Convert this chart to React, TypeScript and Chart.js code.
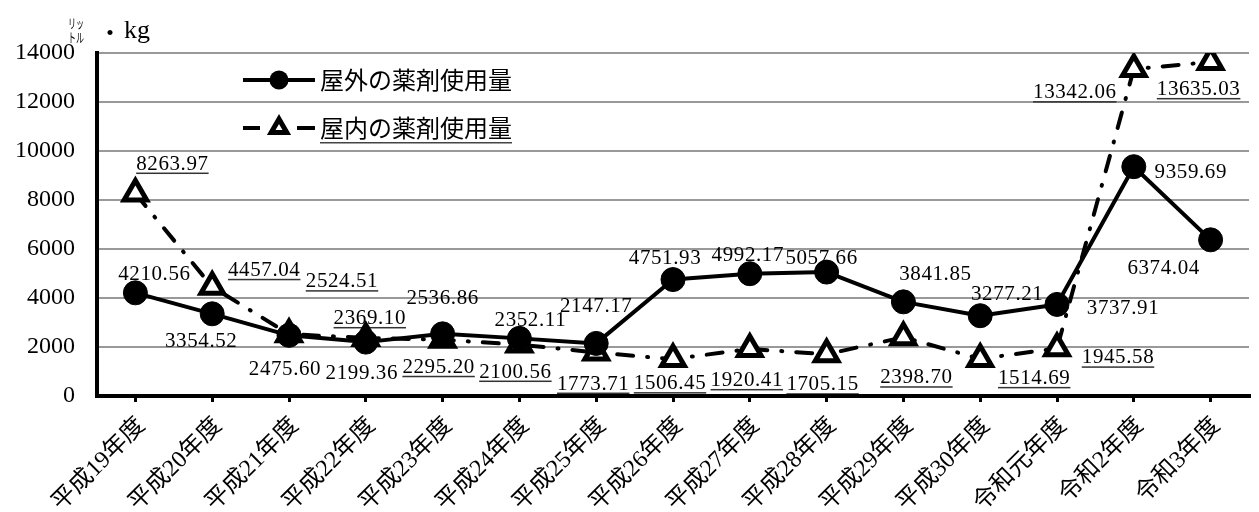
import React, { useEffect, useRef } from 'react';
import { Chart, registerables } from 'chart.js';

Chart.register(...registerables);

// ---- data ----
const categories = [
  '平成19年度', '平成20年度', '平成21年度', '平成22年度', '平成23年度',
  '平成24年度', '平成25年度', '平成26年度', '平成27年度', '平成28年度',
  '平成29年度', '平成30年度', '令和元年度', '令和2年度', '令和3年度',
];
const outdoorValues = [
  4210.56, 3354.52, 2475.6, 2199.36, 2536.86, 2352.11, 2147.17, 4751.93,
  4992.17, 5057.66, 3841.85, 3277.21, 3737.91, 9359.69, 6374.04,
];
const indoorValues = [
  8263.97, 4457.04, 2524.51, 2369.1, 2295.2, 2100.56, 1773.71, 1506.45,
  1920.41, 1705.15, 2398.7, 1514.69, 1945.58, 13342.06, 13635.03,
];
const seriesNames = ['屋外の薬剤使用量', '屋内の薬剤使用量'];
const yMin = 0;
const yMax = 14000;
const yStep = 2000;

// label placement offsets (px, relative to each point) – style only
const outdoorLabelOffsets: [number, number][] = [
  [19, -20], [-11, 26], [-4, 33], [-4, 30], [0, -37], [11, -19], [0, -38],
  [-8, -23], [-2, -20], [-5, -15], [32, -29], [27, -23], [66, 3], [57, 4], [-47, 27],
];
const indoorLabelOffsets: [number, number][] = [
  [37, -31], [52, -18], [53, -54], [4, -21], [-4, 26], [-4, 26], [-3, 30],
  [-3, 23], [-3, 30], [-4, 29], [13, 39], [54, 18], [61, 8], [-59, 22], [-12, 26],
];

const SERIF = '"Liberation Serif", "DejaVu Serif", serif';
const CJK = '"Noto Sans CJK JP", sans-serif';

const dataLabelPlugin = {
  id: 'dataLabelsCustom',
  beforeDatasetsDraw(chart: any) {
    const ctx = chart.ctx as CanvasRenderingContext2D;
    ctx.save();
    ctx.font = `21px ${SERIF}`;
    (ctx as any).letterSpacing = '0.6px';
    ctx.fillStyle = '#000';
    ctx.textAlign = 'center';
    ctx.textBaseline = 'alphabetic';
    const sets = [
      { ds: 0, offs: outdoorLabelOffsets, underline: false },
      { ds: 1, offs: indoorLabelOffsets, underline: true },
    ];
    sets.forEach(({ ds, offs, underline }) => {
      const meta = chart.getDatasetMeta(ds);
      const vals = chart.data.datasets[ds].data as number[];
      meta.data.forEach((pt: any, i: number) => {
        const txt = vals[i].toFixed(2);
        const [dx, dy] = offs[i] || [0, -20];
        const cx = pt.x + dx;
        const base = pt.y + dy + 7;
        ctx.fillText(txt, cx, base);
        if (underline) {
          const w = ctx.measureText(txt).width;
          ctx.fillStyle = '#333';
          ctx.fillRect(cx - w / 2, base + 3, w, 1.5);
          ctx.fillStyle = '#000';
        }
      });
    });
    ctx.restore();
  },
};

const decorPlugin = {
  id: 'decorCustom',
  afterDraw(chart: any) {
    const ctx = chart.ctx as CanvasRenderingContext2D;
    ctx.save();
    // axis unit title
    ctx.fillStyle = '#000';
    ctx.textAlign = 'left';
    ctx.textBaseline = 'middle';
    ctx.font = `13px ${CJK}`;
    ctx.fillText('リッ', 68, 23, 16);
    ctx.fillText('トル', 68, 37, 16);
    ctx.font = `24px ${CJK}`;
    ctx.textAlign = 'center';
    ctx.fillText('・', 110, 32);
    ctx.font = `26px ${SERIF}`;
    ctx.textAlign = 'left';
    ctx.textBaseline = 'alphabetic';
    ctx.fillText('kg', 124, 38);

    // legend
    const lx1 = 243, lx2 = 315, mx = 279;
    const y1 = 80, y2 = 128;
    ctx.strokeStyle = '#000';
    ctx.lineWidth = 4;
    ctx.beginPath();
    ctx.moveTo(lx1, y1);
    ctx.lineTo(lx2, y1);
    ctx.stroke();
    ctx.beginPath();
    ctx.arc(mx, y1, 9.5, 0, Math.PI * 2);
    ctx.fillStyle = '#000';
    ctx.fill();

    ctx.beginPath();
    ctx.moveTo(lx1, y2);
    ctx.lineTo(260, y2);
    ctx.moveTo(297, y2);
    ctx.lineTo(lx2, y2);
    ctx.stroke();
    const r = 9;
    ctx.beginPath();
    ctx.moveTo(mx, y2 - r);
    ctx.lineTo(mx + r * 0.866, y2 + r / 2);
    ctx.lineTo(mx - r * 0.866, y2 + r / 2);
    ctx.closePath();
    ctx.fillStyle = '#fff';
    ctx.fill();
    ctx.lineWidth = 5;
    ctx.lineJoin = 'miter';
    ctx.stroke();

    ctx.fillStyle = '#000';
    ctx.font = `24px ${CJK}`;
    ctx.textAlign = 'left';
    ctx.textBaseline = 'middle';
    ctx.fillText(seriesNames[0], 320, y1);
    ctx.fillText(seriesNames[1], 320, y2);
    const w = ctx.measureText(seriesNames[1]).width;
    ctx.fillStyle = '#444';
    ctx.fillRect(320, y2 + 14, w, 1.5);
    ctx.restore();
  },
};

export default function App() {
  const ref = useRef<HTMLCanvasElement | null>(null);

  useEffect(() => {
    if (!ref.current) return;
    const chart = new Chart(ref.current, {
      type: 'line',
      data: {
        labels: categories,
        datasets: [
          {
            label: seriesNames[0],
            data: outdoorValues,
            borderColor: '#000',
            backgroundColor: '#000',
            borderWidth: 4,
            borderJoinStyle: 'round',
            pointRadius: 12,
            pointBackgroundColor: '#000',
            pointBorderColor: '#000',
            pointBorderWidth: 1,
            tension: 0,
          },
          {
            label: seriesNames[1],
            data: indoorValues,
            borderColor: '#000',
            backgroundColor: '#fff',
            borderWidth: 4,
            borderDash: [16, 14, 1, 14],
            borderCapStyle: 'round',
            pointStyle: 'triangle',
            pointRadius: 13,
            pointBackgroundColor: '#fff',
            pointBorderColor: '#000',
            pointBorderWidth: 5,
            tension: 0,
          },
        ],
      },
      options: {
        responsive: false,
        animation: false,
        events: [],
        layout: { padding: { top: 53, left: 0, right: 0, bottom: 0 } },
        plugins: {
          legend: { display: false },
          tooltip: { enabled: false },
          title: { display: false },
        },
        scales: {
          x: {
            type: 'category',
            offset: true,
            grid: {
              display: true,
              drawOnChartArea: false,
              drawTicks: true,
              tickLength: 6,
              color: '#000',
              lineWidth: 3,
              offset: false,
            },
            border: { display: true, color: '#000', width: 4, z: 1 },
            ticks: {
              autoSkip: false,
              minRotation: 45,
              maxRotation: 45,
              padding: 10,
              labelOffset: 6,
              color: '#000',
              font: { family: `${SERIF.split(',')[0]}, ${CJK}`, size: 24, lineHeight: 1.2 },
            },
            afterFit(scale: any) {
              scale.height = 116;
            },
          },
          y: {
            min: yMin,
            max: yMax,
            grid: {
              color: '#999',
              lineWidth: 2,
              drawTicks: false,
            },
            border: { display: true, color: '#000', width: 4, z: 1 },
            ticks: {
              stepSize: yStep,
              padding: 22,
              color: '#000',
              font: { family: SERIF, size: 24 },
              callback: (v: any) => String(v),
            },
            afterFit(scale: any) {
              scale.width = 97;
            },
          },
        },
      } as any,
      plugins: [dataLabelPlugin, decorPlugin],
    });
    return () => chart.destroy();
  }, []);

  return (
    <div
      style={{
        position: 'fixed',
        left: 0,
        top: 0,
        width: 1267,
        height: 512,
        overflow: 'hidden',
        background: '#fff',
      }}
    >
      <canvas ref={ref} width={1267} height={512} />
    </div>
  );
}
